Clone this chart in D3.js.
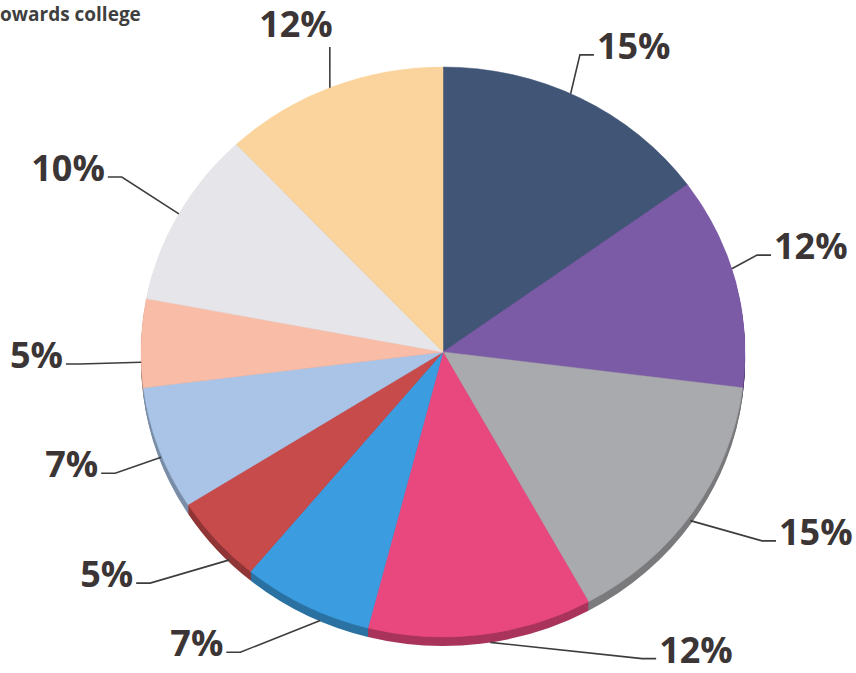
<!DOCTYPE html>
<html>
<head>
<meta charset="utf-8">
<script src="https://cdn.jsdelivr.net/npm/d3@7"></script>
<style>
  body { margin: 0; background: #fff; }
  svg { display: block; }
  .lbl { font-family: "Open Sans", sans-serif; font-weight: 700; font-size: 36px; fill: #3b3535; }
  .title { font-family: "Open Sans", sans-serif; font-weight: 700; font-size: 19px; fill: #3f3f3f; }
</style>
</head>
<body>
<div id="chart"></div>
<script>
// Data
const categories = ["A", "B", "C", "D", "E", "F", "G", "H", "I", "J"];
const values = [15, 12, 15, 12, 7, 5, 7, 5, 10, 12];
const labels = ["15%", "12%", "15%", "12%", "7%", "5%", "7%", "5%", "10%", "12%"];
const colors = ["#415576", "#7c5ba6", "#a9aaae", "#e9487e", "#3b9de0",
                "#c84b4c", "#a9c4e7", "#f8bca7", "#e6e6ea", "#fad49c"];

// Label layout: where the leader leaves the pie, where it bends (deg clockwise from top, radius factor)
const labelLayout = [
    {attach: 25, bend: 23.5, r: 1.137, side: "right"},
    {attach: 73, bend: 71.9, r: 1.094, side: "right"},
    {attach: 125, bend: 122.1, r: 1.247, side: "right"},
    {attach: 171, bend: 148.5, r: 1.262, side: "right"},
    {attach: 204, bend: 212.5, r: 1.249, side: "left"},
    {attach: 225, bend: 230.1, r: 1.264, side: "left"},
    {attach: 249, bend: 248.6, r: 1.166, side: "left"},
    {attach: 268, bend: 268.0, r: 1.203, side: "left"},
    {attach: 299, bend: 300.0, r: 1.228, side: "left"},
    {attach: 338, bend: 340.7, r: 1.134, side: "top"}
];

// Dimensions
const width = 856, height = 673;
const cx = 443, cy = 352;
const rx = 302, ry = 285;
const depth = 9;

const svg = d3.select("#chart").append("svg")
    .attr("width", width)
    .attr("height", height);

svg.append("text")
    .attr("class", "title")
    .attr("x", 0)
    .attr("y", 21)
    .text("owards college");

// Generators
const pie = d3.pie().sort(null).value(d => d)
    .startAngle(0).endAngle(Math.PI * 2);
const arcs = pie(values);
const arc = d3.arc().innerRadius(0).outerRadius(rx);

// rim (stacked darker copies below the top face)
for (let k = depth; k >= 1; k--) {
    const rim = svg.append("g")
        .attr("transform", `translate(${cx}, ${cy + k}) scale(1, ${ry / rx})`);
    rim.selectAll("path")
        .data(arcs)
      .enter().append("path")
        .attr("d", arc)
        .attr("fill", (d, i) => d3.color(colors[i]).darker(0.9));
}

const face = svg.append("g")
    .attr("transform", `translate(${cx}, ${cy}) scale(1, ${ry / rx})`);
face.selectAll("path")
    .data(arcs)
  .enter().append("path")
    .attr("d", arc)
    .attr("fill", (d, i) => colors[i])
    .attr("stroke", (d, i) => colors[i])
    .attr("stroke-width", 0.5);

// Labels
function pt(deg, r) {
    const a = deg * Math.PI / 180;
    return [cx + rx * r * Math.sin(a), cy - ry * r * Math.cos(a)];
}

const tick = 14, gap = 3;
const lab = svg.append("g");
labelLayout.forEach((L, i) => {
    const a0 = pt(L.attach, 1.0);
    a0[1] += depth * Math.max(0, -Math.cos(L.attach * Math.PI / 180));
    const b = pt(L.bend, L.r);
    let pts, tx, ty, anchor;
    if (L.side === "top") {
        pts = [a0, b];
        tx = b[0] + 3; ty = b[1] - 10; anchor = "end";
    } else {
        const dir = L.side === "right" ? 1 : -1;
        const e = [b[0] + dir * tick, b[1]];
        pts = [a0, b, e];
        tx = e[0] + dir * gap; ty = b[1] + 4;
        anchor = dir === 1 ? "start" : "end";
    }
    lab.append("path")
        .attr("d", d3.line()(pts))
        .attr("fill", "none")
        .attr("stroke", "#3d3d3d")
        .attr("stroke-width", 1.6);
    lab.append("text")
        .attr("class", "lbl")
        .attr("x", tx)
        .attr("y", ty)
        .attr("text-anchor", anchor)
        .text(labels[i]);
});
</script>
</body>
</html>
